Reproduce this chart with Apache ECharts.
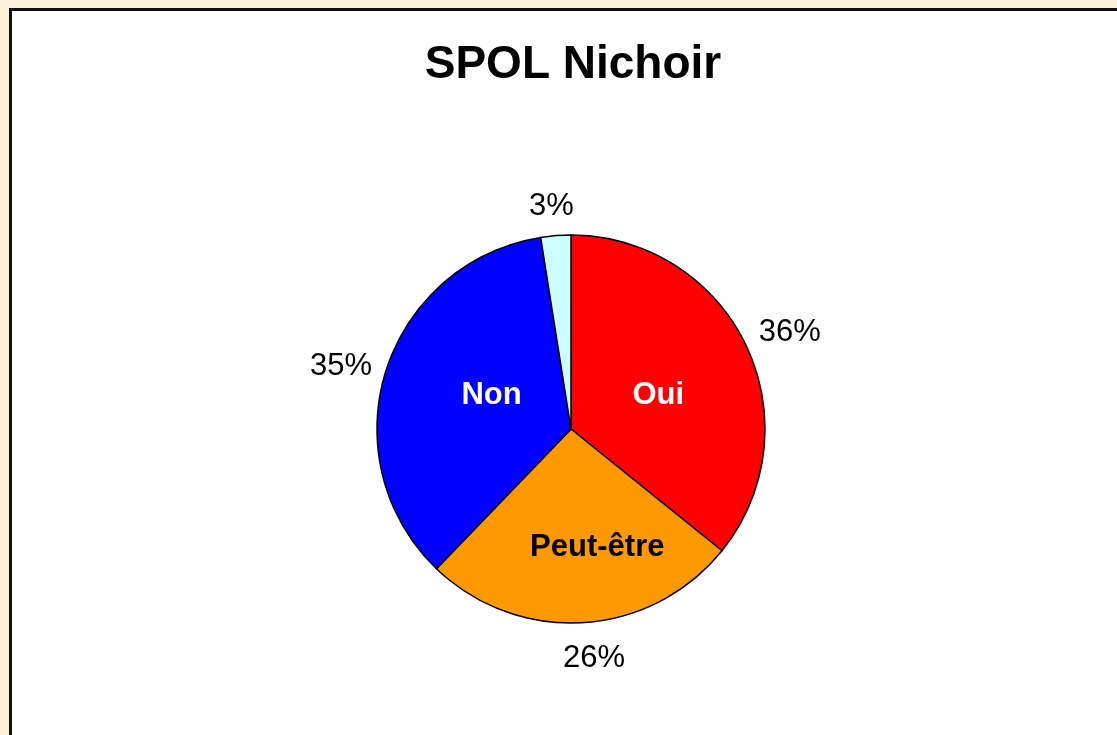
<!DOCTYPE html>
<html>
<head>
<meta charset="utf-8">
<script src="https://cdn.jsdelivr.net/npm/echarts@6/dist/echarts.min.js"></script>
<style>
  html, body { margin: 0; padding: 0; }
  #main { width: 1117px; height: 735px; }
</style>
</head>
<body>
<div id="main"></div>
<script>
// answers, clockwise from the top
const categories = ['Oui', 'Peut-être', 'Non', 'Sans réponse'];
const shares = [35.8, 26.4, 35.3, 2.5];
const showName = [true, true, true, false];

const palette = ['#FF0000', '#FF9900', '#0000FF', '#CCFFFF'];
const nameColor = ['#FFFFFF', '#000000', '#FFFFFF', '#000000'];
// small nudges so the labels sit where the original placed them
const nameNudge = [[-3, 10], [20, 19], [16, -4], [0, 0]];
const pctNudge = [[4, 6], [8, -8], [-3, 9], [-1, 15]];

var myChart = echarts.init(document.getElementById('main'));

var center = [571, 429];
var font = '"Liberation Sans", Arial, sans-serif';

var mainData = categories.map(function (c, i) {
  return {
    name: c,
    value: shares[i],
    itemStyle: { color: palette[i] },
    label: { show: showName[i], color: nameColor[i], offset: nameNudge[i] }
  };
});
var pctData = categories.map(function (c, i) {
  return { name: c, value: shares[i], label: { offset: pctNudge[i] } };
});

var option = {
  backgroundColor: '#FAEFD7',
  animation: false,
  graphic: [{
    type: 'rect',
    z: -10,
    shape: { x: 10.5, y: 9.5, width: 1120, height: 740 },
    style: { fill: '#FFFFFF', stroke: '#111111', lineWidth: 3 }
  }],
  title: {
    text: 'SPOL Nichoir',
    left: 568,
    textAlign: 'center',
    top: 37,
    textStyle: { fontFamily: font, fontSize: 46, fontWeight: 'bold', color: '#000' }
  },
  series: [{
    name: 'main',
    type: 'pie',
    center: center,
    radius: 194,
    startAngle: 90,
    clockwise: true,
    silent: true,
    itemStyle: { borderColor: '#000', borderWidth: 1.5 },
    label: {
      position: 'inside',
      formatter: '{b}',
      fontFamily: font,
      fontSize: 31,
      fontWeight: 'bold'
    },
    labelLine: { show: false },
    data: mainData
  }, {
    name: 'pct',
    type: 'pie',
    center: center,
    radius: [205, 265],
    startAngle: 90,
    clockwise: true,
    silent: true,
    itemStyle: { color: 'rgba(0,0,0,0)', borderWidth: 0 },
    label: {
      position: 'inside',
      formatter: function (p) { return Math.round(p.value) + '%'; },
      fontFamily: font,
      fontSize: 31,
      color: '#000'
    },
    labelLine: { show: false },
    data: pctData
  }]
};

myChart.setOption(option);
</script>
</body>
</html>
